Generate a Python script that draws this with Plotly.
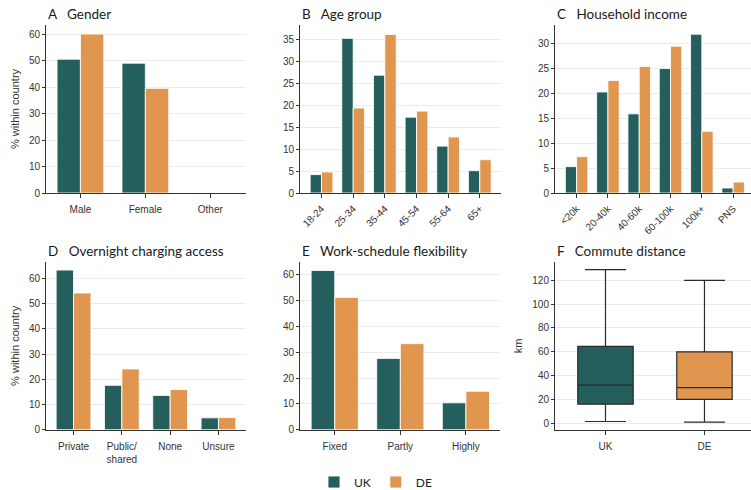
import plotly.graph_objects as go

W, H = 751, 490

countries = ["UK", "DE"]
country_colors = ["#245e5d", "#e1964f"]

gender_cats = ["Male", "Female", "Other"]
gender_uk = [50.5, 49.0, 0.0]
gender_de = [60.0, 39.5, 0.0]

age_cats = ["18-24", "25-34", "35-44", "45-54", "55-64", "65+"]
age_uk = [4.2, 35.3, 26.9, 17.3, 10.7, 5.1]
age_de = [4.8, 19.4, 36.2, 18.7, 12.8, 7.6]

income_cats = ["<20k", "20-40k", "40-60k", "60-100k", "100k+", "PNS"]
income_uk = [5.3, 20.3, 15.9, 25.0, 31.9, 1.0]
income_de = [7.3, 22.6, 25.4, 29.5, 12.4, 2.2]

charging_cats = ["Private", "Public/<br>shared", "None", "Unsure"]
charging_uk = [63.3, 17.6, 13.6, 4.7]
charging_de = [54.2, 24.1, 15.9, 4.8]

schedule_cats = ["Fixed", "Partly", "Highly"]
schedule_uk = [61.6, 27.6, 10.4]
schedule_de = [51.2, 33.3, 14.9]

# commute distance (km) box summaries, UK then DE
commute_low = [1.5, 1.0]
commute_q1 = [16.0, 20.0]
commute_med = [32.0, 30.0]
commute_q3 = [64.5, 60.0]
commute_high = [129.0, 120.0]

# pixel helpers
def px_x(a, b):
    return [a / W, b / W]

def px_y(top, bottom):
    return [1 - bottom / H, 1 - top / H]

TICK_FONT = dict(family="Liberation Sans, Arial, sans-serif", size=10, color="#333333")
TITLE_FONT = dict(family="Lato, Open Sans, sans-serif", size=13.5, color="#1a1a1a")
GRID = "#ebebeb"
AXIS = "#333333"

panels = [
    # key, title, cats, uk, de, xdomain(px), ydomain(px), xrange, yrange, dtick, ytitle, tickangle
    ("1", "A\u00a0\u00a0\u00a0Gender", gender_cats, gender_uk, gender_de, (46, 246), (25, 193), [-0.53, 2.55], [0, 63.4], 10, "% within country", 0),
    ("2", "B\u00a0\u00a0\u00a0Age group", age_cats, age_uk, age_de, (300, 501), (25, 193), [-0.68, 5.67], [0, 38.35], 5, None, -45),
    ("3", "C\u00a0\u00a0\u00a0Household income", income_cats, income_uk, income_de, (555, 751), (25, 193), [-0.69, 5.57], [0, 33.75], 5, None, -45),
    ("4", "D\u00a0\u00a0\u00a0Overnight charging access", charging_cats, charging_uk, charging_de, (46, 246), (262, 429.7), [-0.57, 3.57], [0, 66.5], 10, "% within country", 0),
    ("5", "E\u00a0\u00a0\u00a0Work-schedule flexibility", schedule_cats, schedule_uk, schedule_de, (300, 500), (262, 429.7), [-0.53, 2.52], [0, 64.9], 10, None, 0),
]

fig = go.Figure()
layout = {}
annotations = []

for i, (key, title, cats, uk, de, xd, yd, xr, yr, dt, ytitle, ang) in enumerate(panels):
    xa = "x" if key == "1" else "x" + key
    ya = "y" if key == "1" else "y" + key
    for name, vals, col in zip(countries, [uk, de], country_colors):
        fig.add_trace(go.Bar(
            x=cats, y=vals, name=name, xaxis=xa, yaxis=ya,
            marker=dict(color=col, line=dict(color="rgba(255,255,255,0.85)", width=1)),
            legendgroup=name, showlegend=(i == 0), offsetgroup=name,
        ))
    layout["xaxis" if key == "1" else "xaxis" + key] = dict(
        domain=px_x(*xd), anchor=ya, range=xr, type="category",
        showline=True, linecolor=AXIS, linewidth=1,
        ticks="outside", ticklen=4, tickcolor=AXIS, tickangle=ang,
        ticklabelstandoff=3 if ang == 0 else 1,
        tickfont=TICK_FONT, showgrid=False, zeroline=False,
    )
    layout["yaxis" if key == "1" else "yaxis" + key] = dict(
        domain=px_y(*yd), anchor=xa, range=yr, dtick=dt,
        showline=True, linecolor=AXIS, linewidth=1,
        ticks="outside", ticklen=3, tickcolor=AXIS,
        tickfont=TICK_FONT, showgrid=True, gridcolor=GRID, gridwidth=1,
        zeroline=False,
        title=dict(text=ytitle, font=dict(family="Liberation Sans, Arial, sans-serif", size=11, color="#333333"), standoff=7) if ytitle else None,
    )
    annotations.append(dict(
        text=title, xref="paper", yref="paper", x=xd[0] / W, y=1 - (yd[0] - 11) / H,
        xanchor="left", yanchor="middle", showarrow=False, font=TITLE_FONT,
    ))

# panel F: commute distance box plots
for j, (name, col) in enumerate(zip(countries, country_colors)):
    fig.add_trace(go.Box(
        x=[name], q1=[commute_q1[j]], median=[commute_med[j]], q3=[commute_q3[j]],
        lowerfence=[commute_low[j]], upperfence=[commute_high[j]],
        xaxis="x6", yaxis="y6", fillcolor=col, line=dict(color="#2b2b2b", width=1.2),
        width=0.56, whiskerwidth=0.74, showlegend=False, boxpoints=False,
    ))

layout["xaxis6"] = dict(
    domain=px_x(555, 751), anchor="y6", range=[-0.51, 1.47], type="category",
    categoryorder="array", categoryarray=countries,
    showline=True, linecolor=AXIS, linewidth=1,
    ticks="outside", ticklen=4, tickcolor=AXIS, tickfont=TICK_FONT,
    ticklabelstandoff=3, showgrid=False, zeroline=False,
)
layout["yaxis6"] = dict(
    domain=px_y(262, 429.7), anchor="x6", range=[-5.4, 135.4], dtick=20,
    showline=True, linecolor=AXIS, linewidth=1,
    ticks="outside", ticklen=3, tickcolor=AXIS, tickfont=TICK_FONT,
    showgrid=True, gridcolor=GRID, gridwidth=1, zeroline=False,
    title=dict(text="km", font=dict(family="Liberation Sans, Arial, sans-serif", size=11, color="#333333"), standoff=7),
)
annotations.append(dict(
    text="F\u00a0\u00a0\u00a0Commute distance", xref="paper", yref="paper", x=555 / W, y=1 - 251 / H,
    xanchor="left", yanchor="middle", showarrow=False, font=TITLE_FONT,
))

fig.update_layout(
    width=W, height=H, margin=dict(l=0, r=0, t=0, b=0, autoexpand=False),
    paper_bgcolor="white", plot_bgcolor="white",
    barmode="group", bargap=0.28, bargroupgap=0.0,
    annotations=annotations,
    legend=dict(orientation="h", x=0.5, xanchor="center", y=1 - 482 / H, yanchor="middle",
                font=dict(family="Lato, Open Sans, sans-serif", size=12, color="#222222"),
                itemwidth=30, traceorder="normal", bgcolor="rgba(0,0,0,0)"),
    **layout,
)

fig.write_html("out.html")
